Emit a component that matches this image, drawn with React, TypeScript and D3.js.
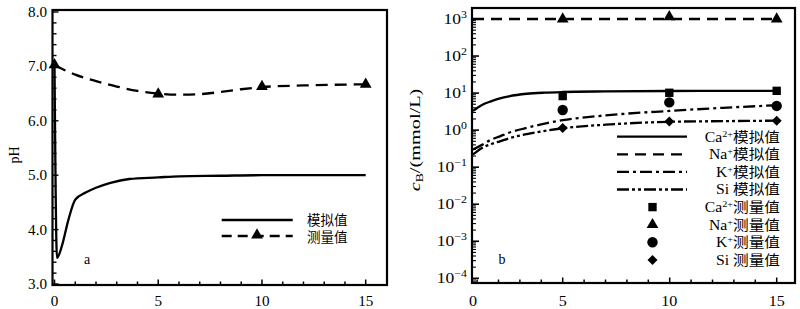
import React from "react";
import * as d3 from "d3";

// ---------- Data ----------
const xTicksMajor = [0, 5, 10, 15];
const phTicks = [3, 4, 5, 6, 7, 8];

const phSimT = [0, 0.12, 0.35, 0.67, 1.0, 1.5, 2.0, 2.7, 3.6, 5, 6, 8, 10, 12, 15];
const phSim = [7.0, 3.48, 3.69, 4.18, 4.55, 4.68, 4.77, 4.86, 4.93, 4.96, 4.98, 4.99, 5.0, 5.0, 5.0];

const phMeasCurveT = [0, 1, 2, 3, 4, 5, 6, 7, 8, 9, 10, 12, 15];
const phMeasCurve = [7.02, 6.85, 6.73, 6.63, 6.55, 6.5, 6.48, 6.49, 6.53, 6.58, 6.62, 6.65, 6.67];

const phMeasT = [0, 5, 10, 15];
const phMeas = [7.03, 6.49, 6.63, 6.67];

const simT = [0, 0.5, 1, 1.5, 2, 3, 4, 5, 7, 10, 12.5, 15];
const caSim = [3.3, 4.8, 6.0, 7.2, 8.2, 9.6, 10.3, 10.7, 11.1, 11.4, 11.45, 11.5];
const kSim = [0.3, 0.4, 0.55, 0.68, 0.85, 1.15, 1.5, 1.85, 2.5, 3.3, 4.0, 4.7];
const siSim = [0.22, 0.33, 0.42, 0.5, 0.6, 0.78, 0.95, 1.12, 1.4, 1.68, 1.75, 1.8];
const naSimT = [0, 15];
const naSim = [1000, 1000];

const measT = [5, 10, 15];
const caMeas = [8.3, 10.2, 11.5];
const naMeas = [1000, 1150, 1000];
const kMeas = [3.5, 5.6, 4.5];
const siMeas = [1.15, 1.7, 1.8];

const logExps = [-4, -3, -2, -1, 0, 1, 2, 3];

const legendLeft = ["模拟值", "测量值"];
const legendRightIons = ["Ca", "Na", "K", "Si"];
const legendRightCharges = ["2+", "+", "+", ""];

// ---------- Styles ----------
const FONT = "Liberation Serif, Noto Sans CJK SC, serif";
const DASH = "12,7";
const DASHDOT = "12,4,3,4";
const DASHDOTDOT = "12,3,3,3,3,3";

function T({ x, y, children, size = 13, sx = 1, anchor = "middle", rotate = 0, dy = "0.35em" }: any) {
  return (
    <text
      transform={`translate(${x},${y})${rotate ? ` rotate(${rotate})` : ""} scale(${sx},1)`}
      textAnchor={anchor}
      fontSize={size}
      dy={dy}
      fontFamily={FONT}
      fill="#000"
    >
      {children}
    </text>
  );
}

export default function App() {
  // ----- left panel scales -----
  const L = { x0: 52.5, x1: 387, y0: 10, y1: 285 };
  const xL = d3.scaleLinear().domain([0, 15]).range([54.5, 365.7]);
  const yL = d3.scaleLinear().domain([3, 8]).range([284, 12]);

  // ----- right panel scales -----
  const R = { x0: 472, x1: 795, y0: 8, y1: 283 };
  const xR = d3.scaleLinear().domain([0, 5, 10, 15]).range([473, 562.7, 669.3, 776.7]);
  const xRt = d3.scaleLinear().domain([5, 15]).range([562.7, 776.7]);
  const yR = d3.scaleLog().domain([1e-4, 1e3]).range([278.3, 19]);

  const lineL = d3
    .line<[number, number]>()
    .x((d) => xL(d[0]))
    .y((d) => yL(d[1]))
    .curve(d3.curveMonotoneX);
  const lineR = d3
    .line<[number, number]>()
    .x((d) => xR(d[0]))
    .y((d) => yR(d[1]))
    .curve(d3.curveMonotoneX);

  const zip = (a: number[], b: number[]) => a.map((v, i) => [v, b[i]] as [number, number]);

  const tri = d3.symbol().type(d3.symbolTriangle).size(60)()!;
  const sq = d3.symbol().type(d3.symbolSquare).size(70)()!;
  const circ = d3.symbol().type(d3.symbolCircle).size(85)()!;
  const dia = d3.symbol().type(d3.symbolSquare).size(50)()!;

  const leftYMinor = d3.range(3, 8.001, 0.2);
  const leftXMinor = d3.range(0, 16, 1);
  const rightXMinor = [1, 2, 3, 4, 6, 7, 8, 9, 11, 12, 13, 14];
  const rightYMinor: number[] = [];
  for (let e = -5; e <= 3; e++) for (let k = 2; k <= 9; k++) {
    const v = k * Math.pow(10, e);
    if (yR(v) > R.y0 + 1 && yR(v) < R.y1 - 1) rightYMinor.push(v);
  }

  const legendRowY = d3.range(8).map((i) => 136.7 + i * 17.6);
  const simDash = ["none", "11,7", DASHDOT, DASHDOTDOT];
  const measSyms = [sq, tri, circ, dia];

  return (
    <svg width={800} height={309} style={{ position: "absolute", left: 0, top: 0, background: "#fff" }}>
      <rect width={800} height={309} fill="#fff" />
      {/* ================= LEFT PANEL ================= */}
      <g>
        {leftYMinor.map((v, i) => {
          const major = Math.abs(v - Math.round(v)) < 1e-6;
          return <line key={"ly" + i} x1={L.x0} x2={L.x0 + (major ? 6 : 4)} y1={yL(v)} y2={yL(v)} stroke="#000" strokeWidth={1.4} />;
        })}
        {leftXMinor.map((v) => {
          const major = v % 5 === 0;
          return <line key={"lx" + v} x1={xL(v)} x2={xL(v)} y1={L.y1} y2={L.y1 - (major ? 5.5 : 3.5)} stroke="#000" strokeWidth={1.5} />;
        })}
        <path d={lineL(zip(phSimT, phSim))!} fill="none" stroke="#000" strokeWidth={2.3} />
        <path d={lineL(zip(phMeasCurveT, phMeasCurve))!} fill="none" stroke="#000" strokeWidth={2.3} strokeDasharray={DASH} />
        {phMeasT.map((t, i) => (
          <path key={"lt" + i} d={tri} transform={`translate(${xL(t)},${yL(phMeas[i])})`} fill="#000" />
        ))}
        <rect x={L.x0} y={L.y0} width={L.x1 - L.x0} height={L.y1 - L.y0} fill="none" stroke="#000" strokeWidth={2.2} />
        {phTicks.map((v) => (
          <T key={"lyl" + v} x={47} y={yL(v)} anchor="end" size={14} sx={1.08}>
            {v.toFixed(1)}
          </T>
        ))}
        {xTicksMajor.map((v) => (
          <T key={"lxl" + v} x={xL(v)} y={301} size={14} sx={1.08}>
            {v}
          </T>
        ))}
        <T x={14} y={155} rotate={-90} size={14}>pH</T>
        <T x={87} y={259} size={14}>a</T>
        <line x1={221.7} x2={292.7} y1={220} y2={220} stroke="#000" strokeWidth={2.3} />
        <line x1={221.7} x2={292.7} y1={236} y2={236} stroke="#000" strokeWidth={2.3} strokeDasharray="10,6" />
        <path d={tri} transform={`translate(257,235)`} fill="#000" />
        <T x={307} y={220} anchor="start" size={13.5}>{legendLeft[0]}</T>
        <T x={307} y={237} anchor="start" size={13.5}>{legendLeft[1]}</T>
      </g>

      {/* ================= RIGHT PANEL ================= */}
      <g>
        {logExps.map((e) => (
          <line key={"rym" + e} x1={R.x0} x2={R.x0 + 7} y1={yR(Math.pow(10, e))} y2={yR(Math.pow(10, e))} stroke="#000" strokeWidth={1.6} />
        ))}
        {rightYMinor.map((v, i) => (
          <line key={"ryn" + i} x1={R.x0} x2={R.x0 + 4} y1={yR(v)} y2={yR(v)} stroke="#000" strokeWidth={1.1} />
        ))}
        {rightXMinor.map((v) => (
          <line key={"rxn" + v} x1={xRt(v)} x2={xRt(v)} y1={R.y1} y2={R.y1 - 3.5} stroke="#000" strokeWidth={1.5} />
        ))}
        {[5, 10, 15].map((v) => (
          <line key={"rxm" + v} x1={xRt(v)} x2={xRt(v)} y1={R.y1} y2={R.y1 - 5.5} stroke="#000" strokeWidth={1.5} />
        ))}
        <path d={lineR(zip(naSimT, naSim))!} fill="none" stroke="#000" strokeWidth={2.3} strokeDasharray="11,7" />
        <path d={lineR(zip(simT, caSim))!} fill="none" stroke="#000" strokeWidth={2.3} />
        <path d={lineR(zip(simT, kSim))!} fill="none" stroke="#000" strokeWidth={2.3} strokeDasharray={DASHDOT} />
        <path d={lineR(zip(simT, siSim))!} fill="none" stroke="#000" strokeWidth={2.3} strokeDasharray={DASHDOTDOT} />
        {measT.map((t, i) => (
          <g key={"m" + i}>
            <path d={sq} transform={`translate(${xR(t)},${yR(caMeas[i])})`} fill="#000" />
            <path d={tri} transform={`translate(${xR(t)},${yR(naMeas[i])})`} fill="#000" />
            <path d={circ} transform={`translate(${xR(t)},${yR(kMeas[i])})`} fill="#000" />
            <path d={dia} transform={`translate(${xR(t)},${yR(siMeas[i])}) rotate(45)`} fill="#000" />
          </g>
        ))}
        <rect x={R.x0} y={R.y0} width={R.x1 - R.x0} height={R.y1 - R.y0} fill="none" stroke="#000" strokeWidth={2.2} />
        {logExps.map((e) => (
          <T key={"ryl" + e} x={467} y={yR(Math.pow(10, e))} anchor="end" sx={1.25} size={14}>
            10
            <tspan dy="-6" fontSize={9.5}>{e < 0 ? "\u2212" + -e : String(e)}</tspan>
          </T>
        ))}
        {xTicksMajor.map((v) => (
          <T key={"rxl" + v} x={xR(v)} y={301} size={14} sx={1.15}>
            {v}
          </T>
        ))}
        <T x={415} y={140} rotate={-90} size={14} sx={1.45}>
          <tspan fontStyle="italic">c</tspan>
          <tspan fontSize={9.5} dy="3">B</tspan>
          <tspan dy="-3">/(mmol/L)</tspan>
        </T>
        <T x={502} y={259} size={14}>b</T>
        {legendRightIons.map((ion, i) => (
          <g key={"lgs" + i}>
            <line x1={617} x2={687} y1={legendRowY[i]} y2={legendRowY[i]} stroke="#000" strokeWidth={2.3} strokeDasharray={simDash[i]} />
            <T x={780} y={legendRowY[i]} anchor="end" size={14} sx={1.12}>
              {ion}
              {legendRightCharges[i] ? <tspan dy="-5" fontSize={9}>{legendRightCharges[i]}</tspan> : null}
              {legendRightCharges[i] ? <tspan dy="5">模拟值</tspan> : <tspan> 模拟值</tspan>}
            </T>
          </g>
        ))}
        {legendRightIons.map((ion, i) => (
          <g key={"lgm" + i}>
            <path d={measSyms[i]} transform={`translate(652.5,${legendRowY[i + 4]})${i === 3 ? " rotate(45)" : ""}`} fill="#000" />
            <T x={780} y={legendRowY[i + 4]} anchor="end" size={14} sx={1.12}>
              {ion}
              {legendRightCharges[i] ? <tspan dy="-5" fontSize={9}>{legendRightCharges[i]}</tspan> : null}
              {legendRightCharges[i] ? <tspan dy="5">测量值</tspan> : <tspan> 测量值</tspan>}
            </T>
          </g>
        ))}
      </g>
    </svg>
  );
}
